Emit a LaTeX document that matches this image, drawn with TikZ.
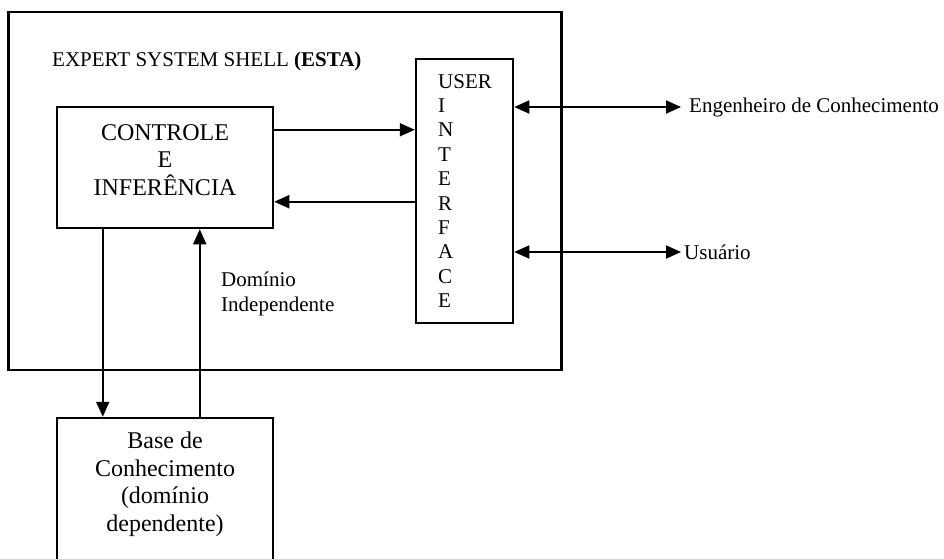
\documentclass[tikz,border=0pt]{standalone}
\usepackage{fontspec}
\setmainfont{Liberation Serif}
\usetikzlibrary{arrows.meta,calc}

\tikzset{
  frame/.style={draw, line width=2.9pt, inner sep=0pt},
  blockbox/.style={draw, line width=2.5pt, inner sep=0pt},
  arr/.style={line width=1.8pt, -{Triangle[length=15pt,width=13pt]}},
  dblarr/.style={line width=1.8pt, {Triangle[length=15pt,width=13pt]}-{Triangle[length=15pt,width=13pt]}},
  txt/.style={inner sep=0pt, font=\fontsize{21}{24.4}\selectfont},
  bigtxt/.style={inner sep=0pt, align=center, font=\fontsize{24}{27.5}\selectfont},
}

\begin{document}
\begin{tikzpicture}[x=1pt, y=-1pt]
  \useasboundingbox (0,0) rectangle (944,558);
  \clip (0,0) rectangle (944,558);

  % outer shell frame
  \node[frame, minimum width=553pt, minimum height=358pt] (shell) at (285,191) {};
  \node[txt, anchor=west] (title) at (52,61)
    {EXPERT SYSTEM SHELL \textbf{(ESTA)}};

  % control and inference block
  \node[blockbox, minimum width=216pt, minimum height=121pt] (ctrl) at (165,167.5) {};
  \node[bigtxt] (ctrltxt) at (165,160) {CONTROLE\\E\\INFERÊNCIA};

  % vertical user interface block
  \node[blockbox, minimum width=97pt, minimum height=264pt] (ui) at (464.5,191) {};
  \node[txt, anchor=north west, align=left] (uitxt) at (438,74)
    {USER\\I\\N\\T\\E\\R\\F\\A\\C\\E};

  % knowledge base block (runs past the lower edge)
  \node[blockbox, minimum width=216pt, minimum height=200pt] (base) at (165,518) {};
  \node[bigtxt] (basetxt) at (165,484)
    {Base de\\Conhecimento\\(domínio\\dependente)};

  % external actors
  \coordinate (eng) at (681,107);
  \coordinate (usr) at (681,252);
  \node[txt, anchor=west] (englbl) at (689,107) {Engenheiro de Conhecimento};
  \node[txt, anchor=west] (usrlbl) at (684,252) {Usuário};

  \node[txt, anchor=north west, align=left] (domlbl) at (221,272)
    {Domínio\\Independente};

  % flows between control block and interface
  \draw[arr] ([yshift=-24pt]ctrl.north east) -- ([yshift=-24pt]ctrl.north east -| ui.west);
  \draw[arr] ([yshift=-96pt]ctrl.north east -| ui.west) -- ([yshift=-96pt]ctrl.north east);

  % interface to the outside
  \draw[dblarr] (ui.east |- eng) -- (eng);
  \draw[dblarr] (ui.east |- usr) -- (usr);

  % flows between control block and knowledge base
  \draw[arr] ([xshift=47pt]ctrl.south west) -- ([xshift=47pt]base.north west);
  \draw[arr] ([xshift=144pt]base.north west) -- ([xshift=144pt]ctrl.south west);
\end{tikzpicture}
\end{document}
